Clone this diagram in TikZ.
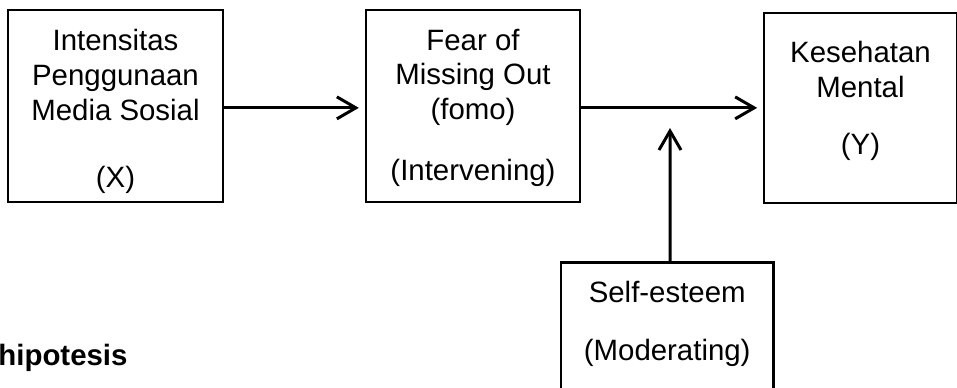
\documentclass[tikz,border=0pt]{standalone}
\usepackage{fontspec}
\setmainfont{Liberation Sans}
\usetikzlibrary{arrows.meta,positioning}

\tikzset{
  varbox/.style={draw, line width=1.15pt, inner sep=0pt},
  vartext/.style={align=center, inner sep=0pt, font=\fontsize{14.7pt}{17.35pt}\selectfont},
  link/.style={line width=1.5pt, -{Straight Barb[length=9.5pt,width=11pt]}, shorten >=3pt}
}

\begin{document}
\begin{tikzpicture}[x=0.5pt, y=-0.5pt]
  \clip (0,0) rectangle (957,387);
  % boxes
  \node[varbox, minimum width=107.2pt, minimum height=95.85pt] (intensitas) at (115.5,105.85) {};
  \node[varbox, minimum width=107pt, minimum height=95.85pt] (fomo) at (473,105.85) {};
  \node[varbox, minimum width=96.2pt, minimum height=95.3pt] (mental) at (860.5,108) {};
  \node[varbox, minimum width=106.15pt, minimum height=68.5pt] (selfesteem) at (667.2,331) {};
  % texts
  \node[vartext] (intensitasT) at ([yshift=-2.9pt]intensitas.center) {Intensitas\\Penggunaan\\Media Sosial\\[16.35pt](X)};
  \node[vartext] (fomoT) at ([yshift=-0.9pt]fomo.center) {Fear of\\Missing Out\\(fomo)\\[13pt](Intervening)};
  \node[vartext] (mentalT) at ([yshift=3.5pt]mental.center) {Kesehatan\\Mental\\[11pt](Y)};
  \node[vartext] (selfesteemT) at ([yshift=3.55pt]selfesteem.center) {Self-esteem\\[11.8pt](Moderating)};
  \node[anchor=base west, inner sep=0pt, font=\fontsize{14.7pt}{17.35pt}\selectfont\bfseries] (hipotesis) at (-2,365) {hipotesis};
  % arrows
  \coordinate (meet) at (670,122);
  \draw[link] ([yshift=-1pt]intensitas.east) -- ([yshift=-1pt]fomo.west);
  \draw[link] ([yshift=-1pt]fomo.east) -- ([yshift=-1pt]fomo.east -| mental.west);
  \draw[link] ([xshift=1.4pt]selfesteem.north) -- (meet);
\end{tikzpicture}
\end{document}
